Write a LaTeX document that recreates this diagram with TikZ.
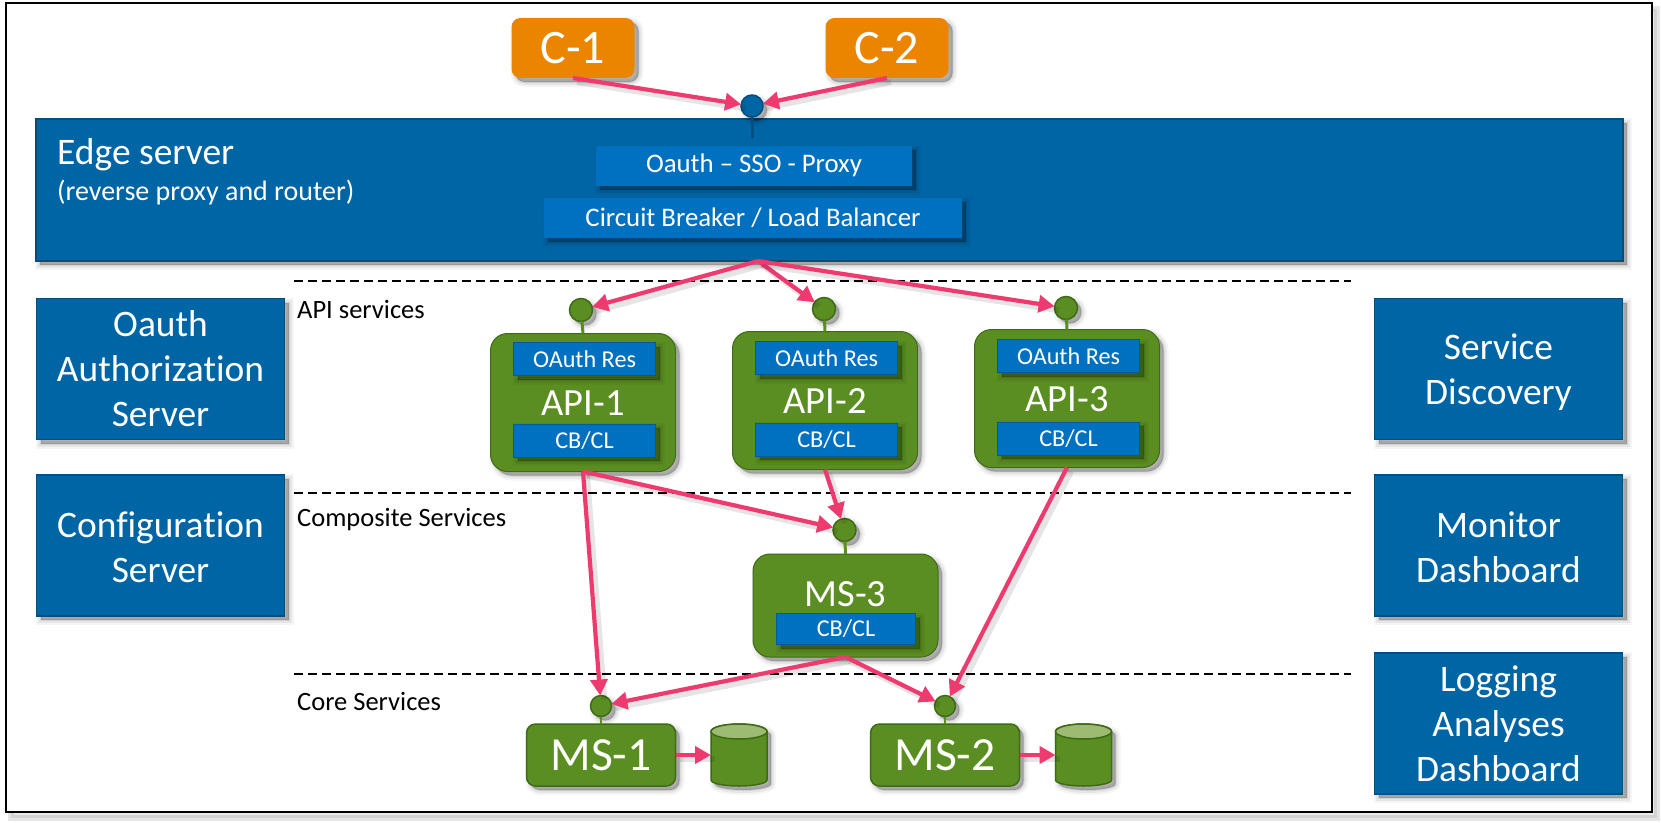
\documentclass[tikz,border=0pt]{standalone}
\usepackage{fontspec}
\setmainfont[Ligatures=NoCommon]{Carlito}
\usetikzlibrary{arrows.meta,shapes.geometric,calc}
\definecolor{edgeblue}{HTML}{0065A5}
\definecolor{edgeline}{HTML}{004E7E}
\definecolor{innerblue}{HTML}{0070C0}
\definecolor{leaf}{HTML}{5B8E22}
\definecolor{leafline}{HTML}{3F6A16}
\definecolor{leaftop}{HTML}{9DBB72}
\definecolor{client}{HTML}{EB8500}
\definecolor{hot}{HTML}{EE3B6F}
\tikzset{
  softshadow/.style={
    preaction={draw=black,fill=black,opacity=.04,line width=10pt,transform canvas={xshift=4pt,yshift=-4pt}},
    preaction={draw=black,fill=black,opacity=.06,line width=6pt,transform canvas={xshift=4pt,yshift=-4pt}},
    preaction={draw=black,fill=black,opacity=.08,line width=2pt,transform canvas={xshift=4pt,yshift=-4pt}},
    preaction={fill=black,opacity=.12,transform canvas={xshift=4pt,yshift=-4pt}}},
  basebox/.style={inner sep=0pt,outer sep=0pt,text=white,align=center,softshadow},
  sidebox/.style={basebox,rectangle,fill=edgeblue,draw=edgeline,line width=1.5pt,
    minimum width=248pt,minimum height=141pt,font=\fontsize{37.4}{45}\selectfont},
  clientbox/.style={basebox,rectangle,rounded corners=9pt,fill=client,minimum width=123pt,minimum height=60pt,font=\fontsize{48}{48}\selectfont},
  innerbox/.style={basebox,rectangle,fill=innerblue,draw=edgeline!60!innerblue,line width=.8pt,minimum width=142pt,minimum height=33pt,font=\fontsize{24.2}{24.2}\selectfont},
  gatebox/.style={basebox,rectangle,fill=innerblue,minimum height=40pt,font=\fontsize{26.8}{26.8}\selectfont},
  svcbox/.style={basebox,rectangle,rounded corners=17pt,fill=leaf,draw=leafline,line width=1pt,minimum width=185pt,minimum height=138pt},
  svctext/.style={text=white,inner sep=0pt,font=\fontsize{38.5}{38.5}\selectfont},
  corebox/.style={basebox,rectangle,rounded corners=9pt,fill=leaf,draw=leafline,line width=1.5pt,minimum width=149pt,minimum height=62pt,font=\fontsize{47.5}{47.5}\selectfont},
  greendot/.style={circle,inner sep=0pt,outer sep=0pt,minimum size=23pt,fill=leaf,draw=leafline,line width=1.5pt,softshadow},
  bluedot/.style={circle,inner sep=0pt,outer sep=0pt,minimum size=22pt,fill=edgeblue,draw=edgeline,line width=1.5pt,softshadow},
  stem/.style={leaf,line width=3pt},
  storeslot/.style={rectangle,inner sep=0pt,outer sep=0pt,minimum width=56pt,minimum height=62pt},
  storebody/.style={fill=leaf,draw=leafline,line width=1.5pt,line join=round,softshadow},
  storetop/.style={fill=leaftop,draw=leafline,line width=1.5pt},
  flow/.style={hot,line width=4.2pt,-{Triangle[length=16pt,width=17pt]},
    preaction={draw=black,opacity=.10,line width=6pt,-,transform canvas={xshift=4pt,yshift=-4pt}}},
  tier/.style={black,line width=1.5pt,dash pattern=on 9pt off 5pt},
  tiertext/.style={anchor=west,inner sep=0pt,text=black,font=\fontsize{26.5}{26.5}\selectfont},
  frame/.style={draw=black,line width=1.5pt,fill=white,
    preaction={fill=black,opacity=.08,transform canvas={xshift=5pt,yshift=-6pt}},
    preaction={draw=black,opacity=.10,line width=6pt,transform canvas={xshift=5pt,yshift=-6pt}}}
}
\newcommand{\storecan}[1]{%
  \draw[storebody] ($(#1.north west)+(0,7.5)$) -- ($(#1.south west)+(0,-6)$)
    arc[start angle=180,end angle=360,x radius=28pt,y radius=6pt]
    -- ($(#1.north east)+(0,7.5)$)
    arc[start angle=0,end angle=180,x radius=28pt,y radius=7.5pt] -- cycle;
  \draw[storetop] ($(#1.north)+(0,7.5)$) ellipse [x radius=28pt,y radius=7.5pt];
}
\begin{document}
\begin{tikzpicture}[x=1pt,y=-1pt]
\useasboundingbox (0,0) rectangle (1661,822);
\path[frame] (6,3) rectangle (1652,812);

% tier lines
\coordinate (t1a) at (294,281); \coordinate (t1b) at (1351,281);
\coordinate (t2a) at (294,493); \coordinate (t2b) at (1351,493);
\coordinate (t3a) at (294,674); \coordinate (t3b) at (1351,674);
\draw[tier] (t1a) -- (t1b);
\draw[tier] (t2a) -- (t2b);
\draw[tier] (t3a) -- (t3b);
\node[tiertext] (l1) at (297,309) {API services};
\node[tiertext] (l2) at (297,520) {Composite Services};
\node[tiertext] (l3) at (297,701) {Core Services};

% edge server
\node[basebox,rectangle,fill=edgeblue,draw=edgeline,line width=1.5pt,minimum width=1587pt,minimum height=142pt] (edge) at (829.5,190) {};
\node[anchor=west,inner sep=0pt,text=white,font=\fontsize{37.5}{37.5}\selectfont] (edgename) at (57,155) {Edge server};
\node[anchor=west,inner sep=0pt,text=white,font=\fontsize{28}{28}\selectfont] (edgesub) at (57,193) {(reverse proxy and router)};
\node[gatebox,minimum width=316pt] (oauth) at (754,165.5) {Oauth – SSO - Proxy};
\node[gatebox,minimum width=418pt] (breaker) at (753,217.5) {Circuit Breaker / Load Balancer};
\coordinate (edgeout) at (758,261);
\coordinate (edgein) at (752.5,138);

% clients
\node[clientbox] (c1) at (573,48) {C-1};
\node[clientbox] (c2) at (887,48) {C-2};
\node[bluedot] (gate) at (752,106) {};
\draw[edgeline,line width=2.6pt] (gate) -- (edgein);

% side boxes
\node[sidebox] (auth) at (160.5,369) {Oauth\\Authorization\\Server};
\node[sidebox] (conf) at (160.5,545.5) {\rule{0pt}{29pt}Configuration\\Server};
\node[sidebox] (disc) at (1498.5,369) {\rule{0pt}{33pt}Service\\Discovery};
\node[sidebox] (mon) at (1498.5,545.5) {\rule{0pt}{29pt}Monitor\\Dashboard};
\node[sidebox] (logd) at (1498.5,723.5) {Logging\\Analyses\\Dashboard};

% API services
\node[greendot] (d1) at (581,310) {};
\node[greendot] (d2) at (824,309) {};
\node[greendot] (d3) at (1066,308) {};
\node[svcbox] (api1) at (583,402.5) {};
\node[svcbox] (api2) at (825,400.5) {};
\node[svcbox] (api3) at (1067,398.5) {};
\draw[stem] (d1) -- (api1.north);
\draw[stem] (d2) -- (api2.north);
\draw[stem] (d3) -- (api3.north);
\node[innerbox] (r1) at (584.5,359) {OAuth Res};
\node[innerbox] (b1) at (584.5,440.5) {CB/CL};
\node[svctext] (n1) at (583,403) {API-1};
\node[innerbox] (r2) at (826.5,358) {OAuth Res};
\node[innerbox] (b2) at (826.5,439.5) {CB/CL};
\node[svctext] (n2) at (825,401) {API-2};
\node[innerbox] (r3) at (1068.5,356) {OAuth Res};
\node[innerbox] (b3) at (1068.5,438.5) {CB/CL};
\node[svctext] (n3) at (1067,399) {API-3};

% composite
\node[greendot] (d4) at (844.5,530) {};
\node[svcbox,minimum height=103pt] (ms3) at (845.5,605.5) {};
\draw[stem] (d4) -- (ms3.north);
\node[svctext] (n4) at (845.5,594) {MS-3};
\node[innerbox,minimum width=139pt,minimum height=31pt] (b4) at (846,629) {CB/CL};

% core
\node[greendot,minimum size=21pt] (d5) at (601,706) {};
\node[greendot,minimum size=21pt] (d6) at (945,706) {};
\node[corebox] (ms1) at (601,755) {MS-1};
\node[corebox] (ms2) at (945,755) {MS-2};
\draw[stem,line width=2pt] (d5) -- (ms1.north);
\draw[stem,line width=2pt] (d6) -- (ms2.north);
\node[storeslot] (db1) at (739,755) {};
\node[storeslot] (db2) at (1083.5,755) {};
\storecan{db1}
\storecan{db2}

% flows
\draw[flow] (c1.south) -- (gate);
\draw[flow] (c2.south) -- (gate);
\draw[flow] (edgeout) -- (d1);
\draw[flow] (edgeout) -- (d2);
\draw[flow] (edgeout) -- (d3);
\draw[flow] (api1.south) -- (d4);
\draw[flow] (api2.south) -- (d4);
\draw[flow] (api1.south) -- (d5);
\draw[flow] (api3.south) -- (d6);
\draw[flow] (ms3.south) -- (d5);
\draw[flow] (ms3.south) -- (d6);
\draw[flow] (ms1.east) -- (db1.west);
\draw[flow] (ms2.east) -- (db2.west);
\end{tikzpicture}
\end{document}
